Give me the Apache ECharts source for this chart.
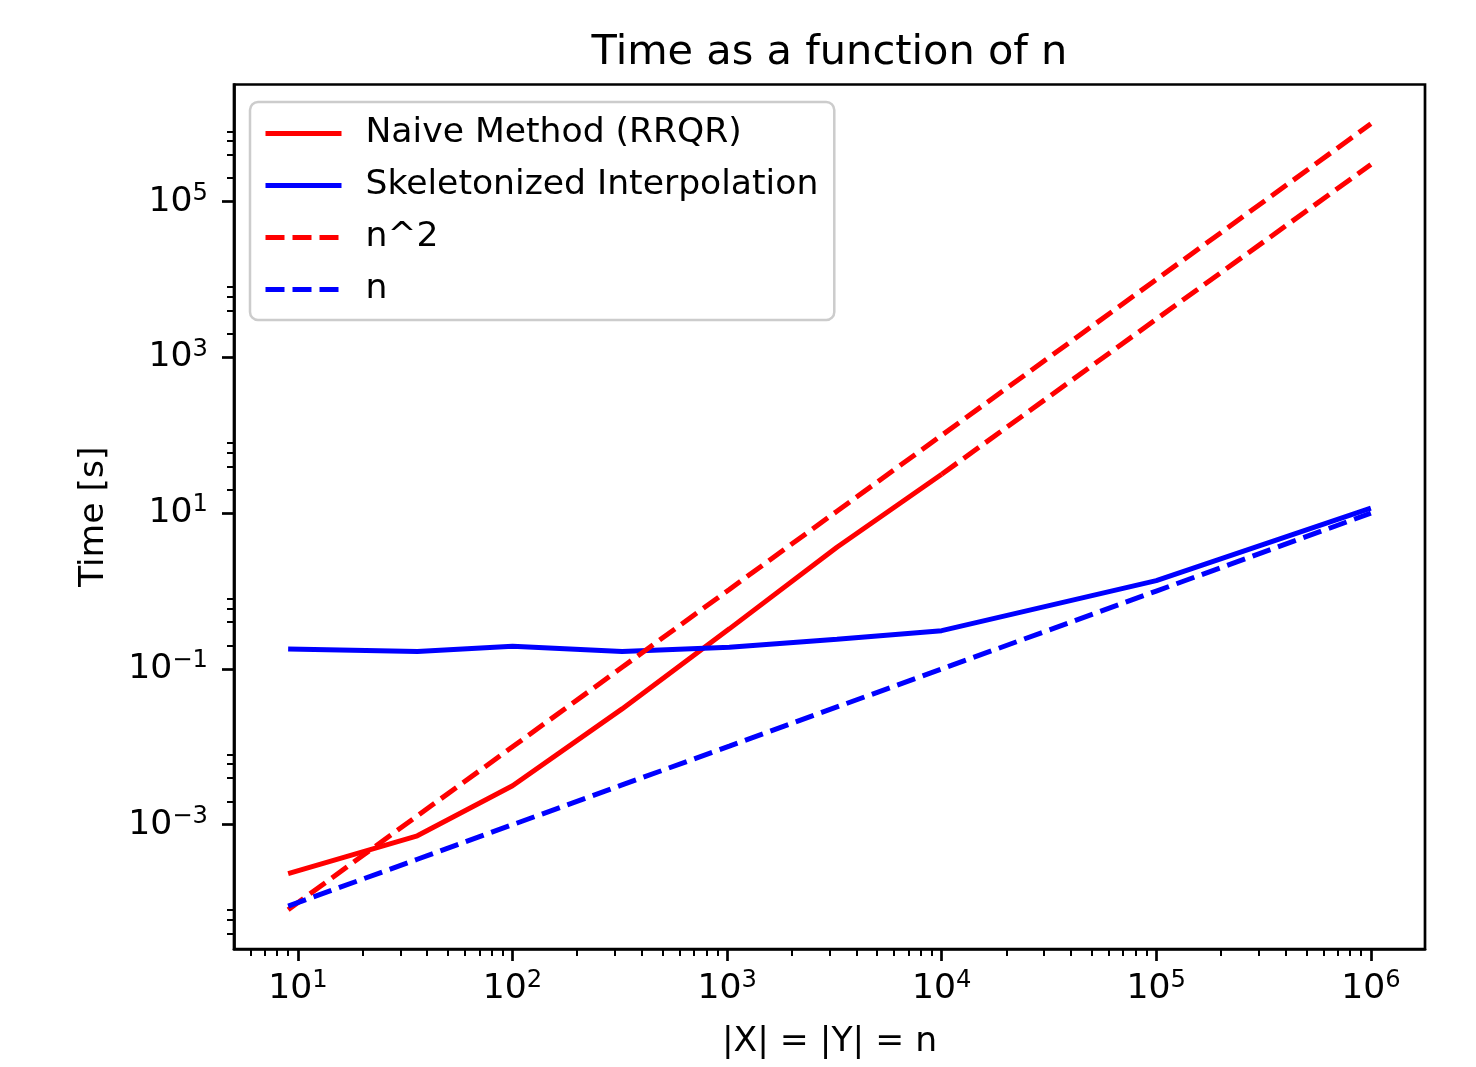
<!DOCTYPE html>
<html><head><meta charset="utf-8">
<script src="https://cdn.jsdelivr.net/npm/echarts@6/dist/echarts.min.js"></script>
<style>html,body{margin:0;padding:0;background:#fff}#c{width:1476px;height:1067px}</style>
</head><body><div id="c"></div>
<script>
// ---- data ----
const nValues   = [9, 36, 100, 324, 1024, 3249, 10000, 100000, 1000000];
const naiveN    = [9, 36, 100, 324, 1024, 3249, 10000];
const naiveTime = [2.35e-4, 7.2e-4, 3.16e-3, 0.0307, 0.327, 3.66, 31.6];
const skelTime  = [0.180, 0.167, 0.195, 0.167, 0.190, 0.24, 0.31, 1.36, 11.6];
const n2Ref     = [8.1e-5, 1.3e-3, 0.01, 0.105, 1.05, 10.6, 100, 1e4, 1e6];
const nRef      = [9e-5, 3.6e-4, 1e-3, 3.24e-3, 0.0102, 0.0325, 0.1, 1, 10];
const extrapN    = [10000, 100000, 1000000];
const extrapTime = [31.6, 3.1e3, 3.0e5];

const seriesNames = ['Naive Method (RRQR)', 'Skeletonized Interpolation', 'n^2', 'n'];

// ---- tick values ----
const xMajorTicks = [10, 100, 1000, 10000, 100000, 1000000];
const xMinorTicks = [6, 7, 8, 9,
  20, 30, 40, 50, 60, 70, 80, 90,
  200, 300, 400, 500, 600, 700, 800, 900,
  2000, 3000, 4000, 5000, 6000, 7000, 8000, 9000,
  20000, 30000, 40000, 50000, 60000, 70000, 80000, 90000,
  200000, 300000, 400000, 500000, 600000, 700000, 800000, 900000];
const yMajorTicks = [1e-3, 1e-1, 1e1, 1e3, 1e5];
const yMinorTicks = [4e-5, 6e-5, 8e-5, 2e-3, 4e-3, 6e-3, 8e-3,
  0.2, 0.4, 0.6, 0.8, 20, 40, 60, 80, 2000, 4000, 6000, 8000,
  2e5, 4e5, 6e5, 8e5];

// axis limits: 5% margin in log space around the data (matplotlib style)
function logLimits(arrs) {
  const all = [].concat(...arrs).map(Math.log10);
  const lo = Math.min(...all), hi = Math.max(...all), m = (hi - lo) * 0.05;
  return [Math.pow(10, lo - m), Math.pow(10, hi + m)];
}
const xLim = logLimits([nValues]);
const yLim = logLimits([naiveTime, skelTime, n2Ref, nRef, extrapTime]);

const FONT = 'DejaVu Sans';
const FS = 34.6;

function powLabel(v) {
  const e = Math.round(Math.log10(v));
  const s = e < 0 ? '\u2212' + (-e) : String(e);
  return '{b|10}{s|' + s + '}';
}
const labelRich = {
  b: { fontFamily: FONT, fontSize: FS, color: '#000', lineHeight: 40 },
  s: { fontFamily: FONT, fontSize: 24.2, color: '#000', lineHeight: 22, verticalAlign: 'top' }
};

const pairs = (xs, ys) => xs.map((x, i) => [x, ys[i]]);
const DASH = [19, 8];
const LW = 5;

function lineSeries(name, xs, ys, color, type) {
  return {
    name, type: 'line', data: pairs(xs, ys), symbol: 'none', showSymbol: false,
    color, lineStyle: { color, width: LW, type }, animation: false, silent: true
  };
}

const option = {
  animation: false,
  backgroundColor: '#fff',
  title: {
    text: 'Time as a function of n',
    left: 829.5, top: 32, padding: 0, textAlign: 'center',
    textStyle: { fontFamily: FONT, fontSize: 41.5, fontWeight: 'normal', color: '#000' }
  },
  grid: {
    left: 234, top: 84.5, width: 1191, height: 864.5, containLabel: false,
    show: true, borderColor: '#000', borderWidth: 2.7, backgroundColor: 'transparent'
  },
  legend: {
    data: seriesNames,
    orient: 'vertical', left: 250, top: 102,
    padding: [14, 16, 13, 13],
    itemWidth: 76, itemHeight: 34, itemGap: 17,
    backgroundColor: 'rgba(255,255,255,0.8)', borderColor: '#cccccc', borderWidth: 2.5, borderRadius: 8,
    textStyle: { fontFamily: FONT, fontSize: FS, color: '#000', padding: [0, 0, 0, 19], lineHeight: 34 },
    lineStyle: { width: LW },
    itemStyle: { opacity: 0, color: 'transparent', borderWidth: 0 },
    selectedMode: false
  },
  xAxis: [
    {
      type: 'log', logBase: 10, min: xLim[0], max: xLim[1], position: 'bottom',
      name: '|X| = |Y| = n', nameLocation: 'middle', nameGap: 76,
      nameTextStyle: { fontFamily: FONT, fontSize: FS, color: '#000' },
      axisLine: { show: true, lineStyle: { color: '#000', width: 2.7 } },
      axisTick: { show: true, length: 12, lineStyle: { color: '#000', width: 2.7 }, customValues: xMajorTicks },
      axisLabel: { show: true, customValues: xMajorTicks, formatter: powLabel, rich: labelRich, margin: 20 },
      splitLine: { show: false }, minorTick: { show: false }
    },
    {
      type: 'log', logBase: 10, min: xLim[0], max: xLim[1], position: 'bottom',
      axisLine: { show: false },
      axisTick: { show: true, length: 7, lineStyle: { color: '#000', width: 2 }, customValues: xMinorTicks },
      axisLabel: { show: false }, splitLine: { show: false }
    }
  ],
  yAxis: [
    {
      type: 'log', logBase: 10, min: yLim[0], max: yLim[1], position: 'left',
      name: 'Time [s]', nameLocation: 'middle', nameGap: 122, nameRotate: 90,
      nameTextStyle: { fontFamily: FONT, fontSize: FS, color: '#000' },
      axisLine: { show: true, lineStyle: { color: '#000', width: 2.7 } },
      axisTick: { show: true, length: 12, lineStyle: { color: '#000', width: 2.7 }, customValues: yMajorTicks },
      axisLabel: { show: true, customValues: yMajorTicks, formatter: powLabel, rich: labelRich, margin: 26 },
      splitLine: { show: false }, minorTick: { show: false }
    },
    {
      type: 'log', logBase: 10, min: yLim[0], max: yLim[1], position: 'left', offset: 0,
      axisLine: { show: false },
      axisTick: { show: true, length: 7, lineStyle: { color: '#000', width: 2 }, customValues: yMinorTicks },
      axisLabel: { show: false }, splitLine: { show: false }
    }
  ],
  series: [
    lineSeries(seriesNames[0], naiveN, naiveTime, '#ff0000', 'solid'),
    lineSeries(seriesNames[1], nValues, skelTime, '#0000ff', 'solid'),
    lineSeries(seriesNames[2], nValues, n2Ref, '#ff0000', DASH),
    lineSeries(seriesNames[3], nValues, nRef, '#0000ff', DASH),
    lineSeries('n^2 (extrapolated)', extrapN, extrapTime, '#ff0000', DASH)
  ]
};

const chart = echarts.init(document.getElementById('c'), null, { renderer: 'canvas' });
chart.setOption(option);
</script>
</body></html>
